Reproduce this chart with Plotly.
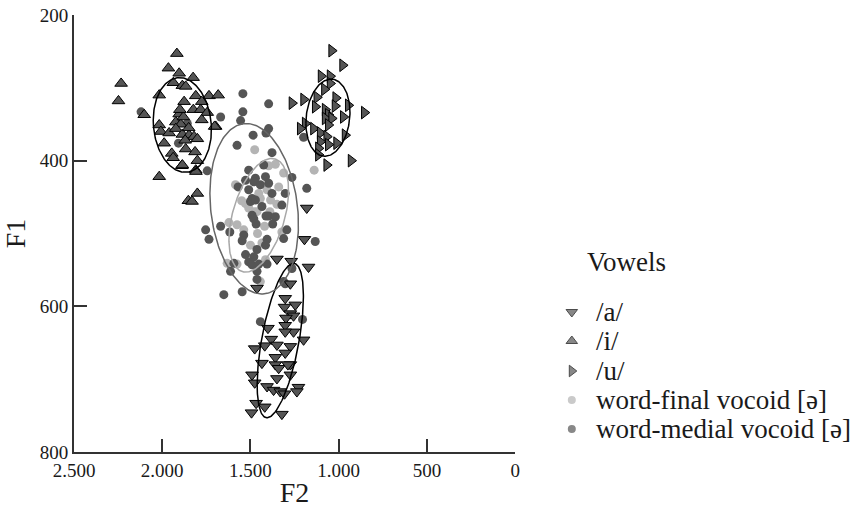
import numpy as np
import plotly.graph_objects as go

# ---------------- data (F2, F1 in Hz) ----------------
a_f2 = [1181,1194,1350,1269,1171,1463,1274,1303,1246,1307,1274,1256,1299,1401,1303,1256,1199,1476,1419,1382,1350,1274,1303,1359,1274,1435,1359,1340,1491,1274,1476,1406,1350,1369,1331,1307,1228,1237,1468,1419,1494,1322,1288,1303]
a_f1 = [465,508,535,538,546,575,569,589,598,601,610,613,616,630,626,635,646,658,654,645,653,655,664,670,680,678,680,685,694,694,705,710,699,715,717,720,711,717,733,738,746,748,680,635]

i_f2 = [1917,1965,1904,1825,1937,1886,1867,2233,2248,2017,1810,1735,1683,1876,1776,1824,1782,1745,1904,1776,1923,1895,2017,1697,2008,1961,1923,1886,1848,1820,1801,1989,1867,1814,1946,1938,1801,1889,1810,2017,1801,1852,1831,1809,1886,1703,2102,1880,1850,1900,1870]
i_f1 = [253,273,280,286,293,297,298,294,318,310,311,311,310,319,319,330,330,334,336,344,347,350,351,353,360,362,356,364,365,367,370,376,384,388,390,396,400,407,413,422,445,455,456,415,406,353,337,340,355,330,372]

u_f2 = [1040,978,1100,1049,1049,1081,1199,1124,1017,1133,1021,946,1077,855,1059,1077,1040,974,1190,1218,1143,1059,1105,1068,964,1105,1059,1012,1115,1115,1068,930,1265]
u_f1 = [249,269,284,284,294,302,316,313,314,326,325,324,330,334,337,342,342,340,349,356,356,351,362,367,365,374,378,376,383,392,406,400,321]

final_f2 = [1476,1359,1397,1312,1139,1585,1406,1340,1444,1528,1510,1463,1622,1576,1322,1500,1435,1632,1576,1415,1444,1453,1538,1386,1480,1420,1460,1390,1550,1350]
final_f1 = [385,405,407,417,413,433,440,436,452,459,465,470,485,488,498,516,513,541,542,536,566,445,495,454,470,490,500,470,455,460]

medial_f2 = [1543,1397,1543,1669,1556,1397,1412,1485,1576,1378,1745,1199,1510,1425,1472,1415,1481,1265,1444,1397,1528,1570,1510,1378,1181,1303,1491,1500,1472,1322,1435,1397,1359,1491,1412,1481,1468,1374,1669,1754,1617,1294,1735,1538,1547,1312,1406,1133,1463,1415,1528,1481,1510,1594,1491,1453,1406,1613,1463,1463,1312,1265,1547,1651,1444,1205,1303,2120,1858,1908]
medial_f1 = [308,322,333,340,345,356,362,365,379,389,414,368,413,406,424,422,429,423,433,431,427,436,440,445,438,445,452,456,454,461,463,476,477,475,476,480,487,487,490,495,498,495,508,502,510,507,508,511,522,516,529,532,539,541,543,542,542,552,552,563,566,548,580,584,621,618,569,333,349,376]

# ellipse summaries: centre F2, centre F1, half-extent F2, half-extent F1, tilt phase
ell_names  = ["/a/", "/i/", "/u/", "medial", "final"]
ell_c2     = [1331, 1886, 1061, 1479, 1453]
ell_c1     = [647, 351, 341, 466, 475]
ell_a2     = [131, 165, 125, 251, 169]
ell_b1     = [106, 65, 53, 117, 78]
ell_phase  = [0.96, 1.67, 1.43, 1.75, 1.12]

x_tickvals = [2500, 2000, 1500, 1000, 500, 0]
x_ticktext = ["2.500", "2.000", "1.500", "1.000", "500", "0"]
y_tickvals = [200, 400, 600, 800]
y_ticktext = ["200", "400", "600", "800"]

legend_labels = ["/a/", "/i/", "/u/", "word-final vocoid [ə]", "word-medial vocoid [ə]"]

# ---------------- styles ----------------
FONT = "Liberation Serif, Times New Roman, DejaVu Serif, serif"
TRI_FILL = "#555555"
DARK = "#555555"
LIGHT = "#b4b4b4"
ell_colors = ["#000000", "#000000", "#000000", "#666666", "#a8a8a8"]

fig = go.Figure()

fig.add_trace(go.Scatter(x=final_f2, y=final_f1, mode="markers", name=legend_labels[3],
                         marker=dict(color=LIGHT, size=9, line=dict(width=0)), showlegend=False))
fig.add_trace(go.Scatter(x=medial_f2, y=medial_f1, mode="markers", name=legend_labels[4],
                         marker=dict(color=DARK, size=9, line=dict(width=0)), showlegend=False))
for xs, ys, sym, nm in [(a_f2, a_f1, "triangle-down", legend_labels[0]),
                        (i_f2, i_f1, "triangle-up", legend_labels[1]),
                        (u_f2, u_f1, "triangle-right", legend_labels[2])]:
    fig.add_trace(go.Scatter(x=xs, y=ys, mode="markers", name=nm, showlegend=False,
                             marker=dict(symbol=sym, color=TRI_FILL, size=11,
                                         line=dict(color="#000000", width=1))))

t = np.linspace(0, 2 * np.pi, 200)
for c2, c1, a2, b1, ph, col in zip(ell_c2, ell_c1, ell_a2, ell_b1, ell_phase, ell_colors):
    fig.add_trace(go.Scatter(x=c2 + a2 * np.cos(t), y=c1 + b1 * np.cos(t + ph), mode="lines",
                             line=dict(color=col, width=1.5), showlegend=False, hoverinfo="skip"))

# ---------------- custom legend (own axis, pixel-like units) ----------------
leg_syms = ["triangle-down", "triangle-up", "triangle-right", "circle", "circle"]
leg_cols = [TRI_FILL, TRI_FILL, TRI_FILL, LIGHT, DARK]
leg_lw = [1, 1, 1, 0, 0]
leg_sizes = [10, 10, 10, 8, 8]
leg_y = [312, 341, 371, 400, 429]
fig.add_trace(go.Scatter(x=[575] * 5, y=leg_y, mode="markers", xaxis="x2", yaxis="y2",
                         showlegend=False, hoverinfo="skip",
                         marker=dict(symbol=leg_syms, color=leg_cols, size=leg_sizes,
                                     line=dict(color="#000000", width=leg_lw))))

annotations = [dict(x=588, y=262, xref="x2", yref="y2", text="Vowels", showarrow=False,
                    xanchor="left", yanchor="middle", font=dict(family=FONT, size=27, color="#1a1a1a"))]
for lab, yy in zip(legend_labels, leg_y):
    annotations.append(dict(x=597, y=yy, xref="x2", yref="y2", text=lab, showarrow=False,
                            xanchor="left", yanchor="middle",
                            font=dict(family=FONT, size=27, color="#1a1a1a")))

W, H = 857, 508
ML, MT, MB = 74, 15, 56
plot_w = W - ML
dom_main = 444 / plot_w

axis_common = dict(showgrid=False, zeroline=False, showline=True, linecolor="#333333", linewidth=2,
                   ticks="inside", ticklen=13, tickwidth=1.5, tickcolor="#333333",
                   tickfont=dict(family=FONT, size=19, color="#1a1a1a"))

fig.update_layout(
    width=W, height=H,
    margin=dict(l=ML, r=0, t=MT, b=MB, pad=0),
    paper_bgcolor="white", plot_bgcolor="white",
    showlegend=False,
    xaxis=dict(domain=[0, dom_main], range=[2500, 0], tickvals=x_tickvals, ticktext=x_ticktext,
               title=dict(text="F2", font=dict(family=FONT, size=28, color="#1a1a1a"), standoff=4),
               **axis_common),
    yaxis=dict(range=[800, 200], tickvals=y_tickvals, ticktext=y_ticktext,
               title=dict(text="F1", font=dict(family=FONT, size=28, color="#1a1a1a"), standoff=6),
               **axis_common),
    xaxis2=dict(domain=[dom_main + 0.02, 1], range=[ML + (dom_main + 0.02) * plot_w, W],
                visible=False, fixedrange=True),
    yaxis2=dict(domain=[0, 1], range=[H - MB, MT], visible=False, fixedrange=True, anchor="x2"),
    annotations=annotations,
)

fig.write_html("out.html")
